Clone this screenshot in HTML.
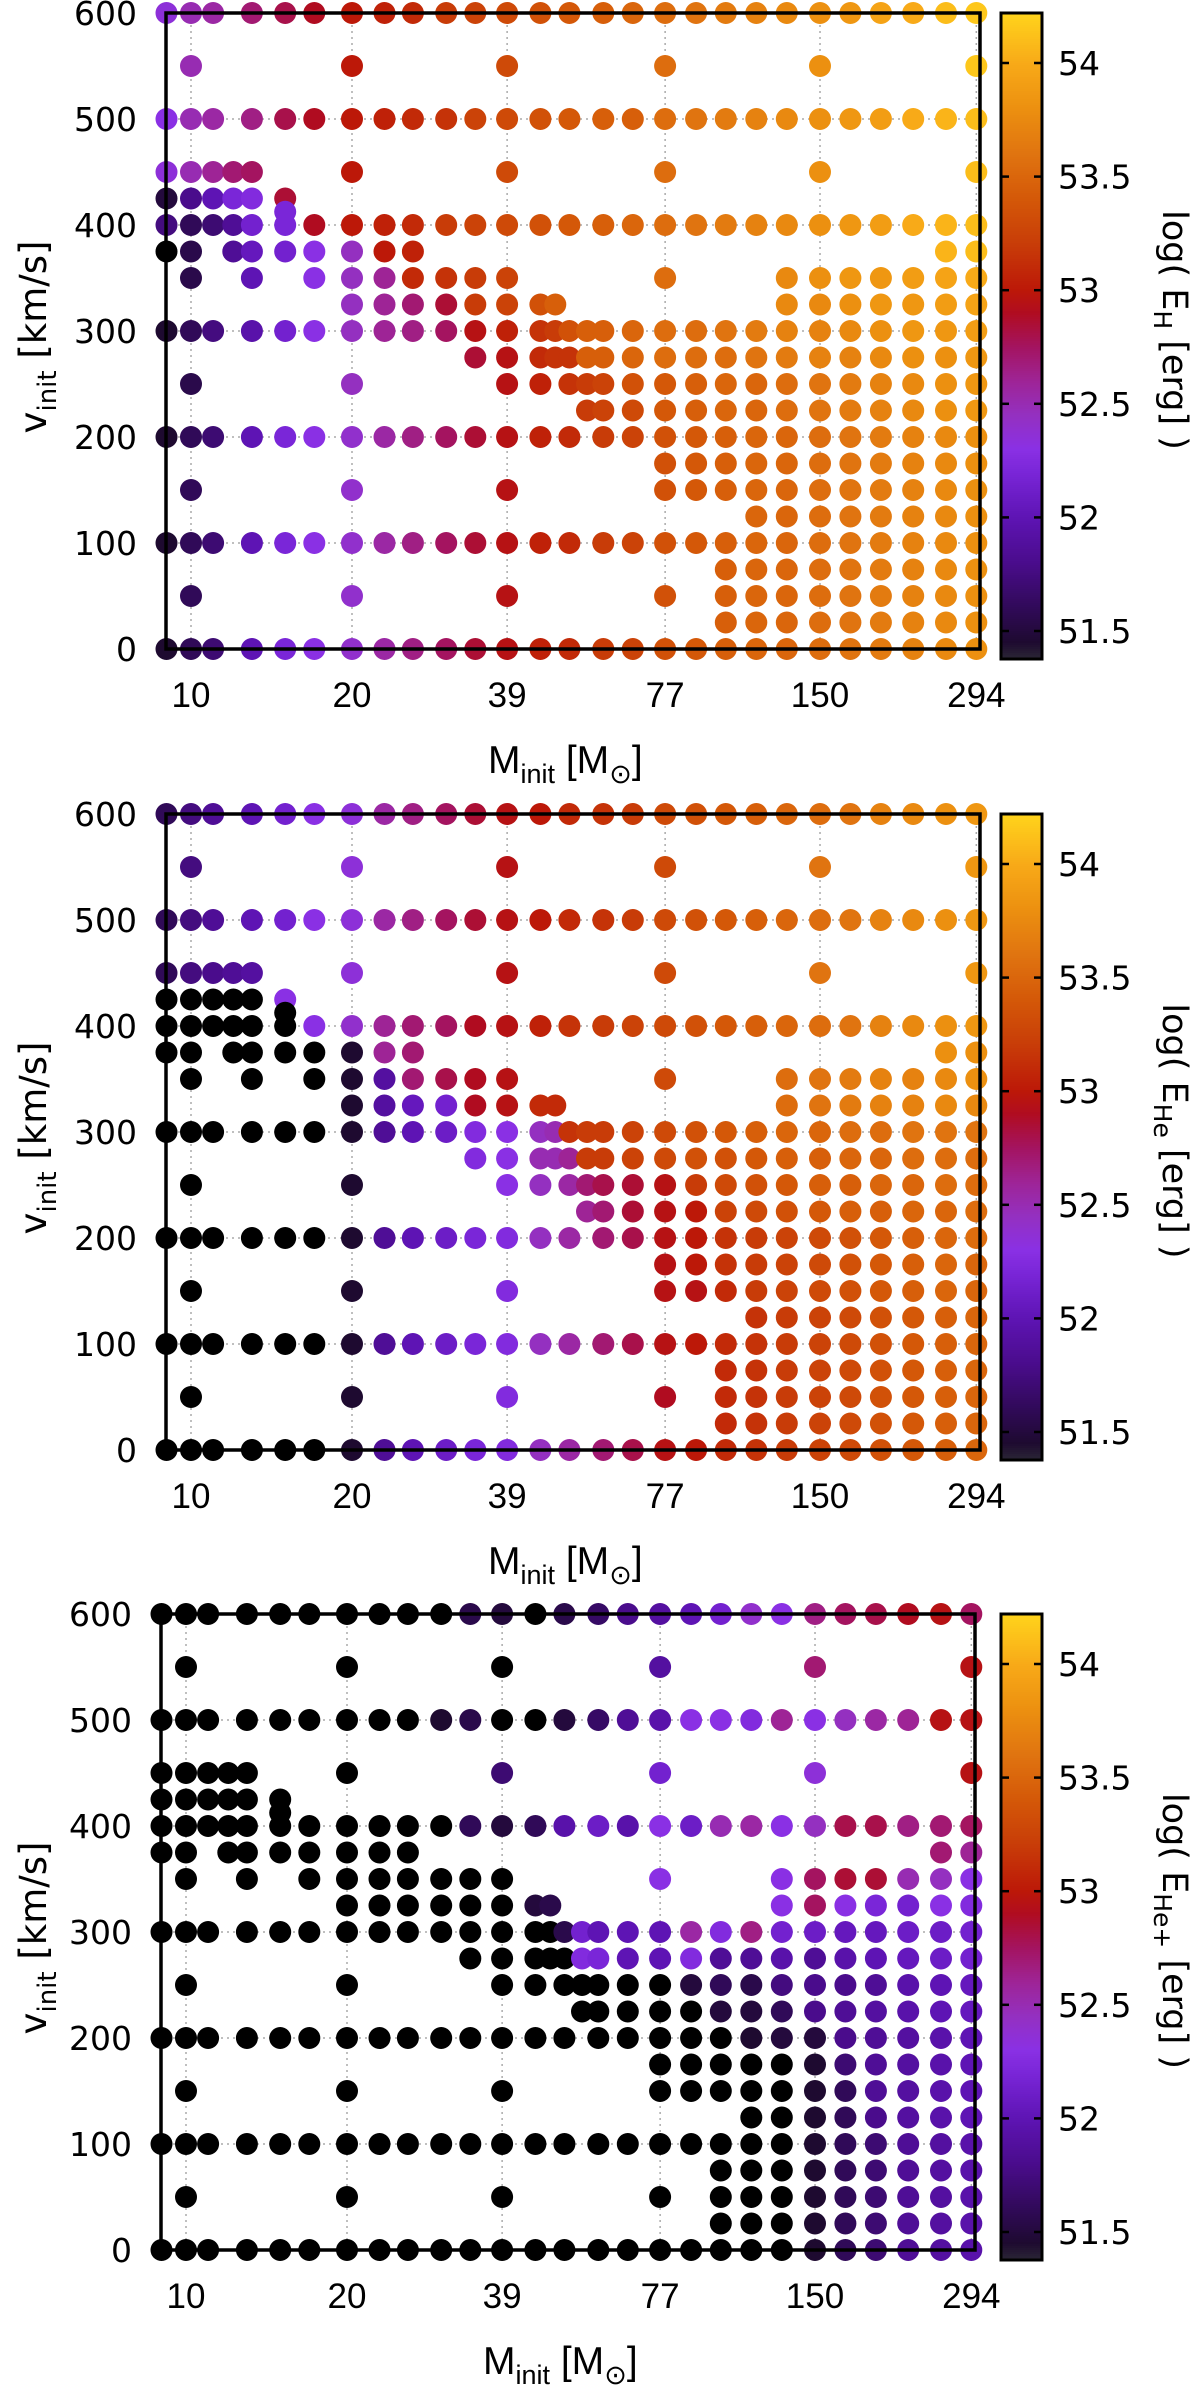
<!DOCTYPE html>
<html><head><meta charset="utf-8"><title>Energy grids</title>
<style>
html,body{margin:0;padding:0;background:#fff;}
svg{display:block;}
text{fill:#000;}
</style></head>
<body>
<svg id="fig" xmlns="http://www.w3.org/2000/svg" width="1200" height="2391" viewBox="0 0 1200 2391"></svg>
<script>
// ---- data ----
const masses = [9,10,11,12,13,15,17,20,23,26,30,34,39,45,48,51,55,59,63,67,77,88,100,114,130,150,171,195,224,258,294];
const velocities = [600,550,500,450,425,412.5,400,375,350,325,300,275,250,225,200,175,150,125,100,75,50,25,0];
const massTicks = [10,20,39,77,150,294];
const velTicks = [0,100,200,300,400,500,600];
const cbTicks = [51.5,52,52.5,53,53.5,54];
const cbTickLabels = ["51.5","52","52.5","53","53.5","54"];
// value code: '.' = no model; char index k -> log E = 51.4 + 0.05*k ; '0' = below range (black)
const codeChars = "0123456789abcdefghijklmnopqrstuvwxyzABCDEFGHIJKLMNOPQRSTUVWXYZ";
const rowsH = [
"jmn.q suwxy ABCD. E.F.G HIJKL MNPQS T",
".m... ..w.. ..C.. ..... H.... M.... T",
"imn.p suwxy zBCD. E.F.F HIJKL MNOQR S",
"jmoqr ..w.. ..C.. ..... H.... M.... S",
"28cgh t.... ..... ..... ..... ..... .",
"..... g.... ..... ..... ..... ..... .",
"7469f guwxy ABCD. E.F.G HIJKL MNOQR S",
"03.9d filwx ..... ..... ..... ....R S",
".3..c .iloy zAB.. ..... H...L MNNOP Q",
"..... ..loq tABDF ..... ....L LMNNO P",
"147.b filop rvxzA DFF.G HHIJK KLMNN O",
"..... ..... .tvyz zFF.G HHHIJ KKLMM N",
".3... ..l.. ..vx. zAB.D EFGGH IJKLM N",
"..... ..... ..... .AB.C EFGGH IJKLM N",
"146.c giknp rtvx. y.A.B DEFGG HIJKL M",
"..... ..... ..... ..... DEFGG HIJKL M",
".4... ..k.. ..v.. ..... DEFGG HIJKL M",
"..... ..... ..... ..... ...GG HIJKL M",
"146.c giknp rtvx. y.A.B DEFGG HIJKL M",
"..... ..... ..... ..... ..FGG HIJKL M",
".4... ..k.. ..v.. ..... D.FGG HIJKL M",
"..... ..... ..... ..... ..FGG HIJKL M",
"146.c giknp rtvx. y.A.B DEFGG HIJKL M"
];
const rowsHe = [
"479.c fijnp rtvw. y.z.A CDEFG HIKLM N",
".7... ..j.. ..v.. ..... C.... I.... N",
"479.c fijnp rtvw. y.z.A CDEFG HIKLM N",
"4789a ..j.. ..v.. ..... C.... I.... N",
"00000 i.... ..... ..... ..... ..... .",
"..... 0.... ..... ..... ..... ..... .",
"00000 0ikoq ruvx. z.A.B CDEFG HIKLM N",
"00.00 001oq ..... ..... ..... ....M M",
".0..0 .01aq suv.. ..... C...H IJKKL M",
"..... ..1ad fuvyy ..... ....H IJKKL L",
"000.0 0019c ehilm zAA.B CDEFG GHHII I",
"..... ..... .himm oAA.B CDDEF FGGHH H",
".0... ..1.. ..il. nqs.t vACDE FFGGH H",
"..... ..... ..... .oq.t vwBCD EFFGG H",
"000.0 0019c eghl. n.q.s vwzAB CDEFG H",
"..... ..... ..... ..... vwzAB CDEFG G",
".0... ..1.. ..h.. ..... vvyAB CDEFG G",
"..... ..... ..... ..... ...zA BCDEF G",
"000.0 0019c eghl. n.q.s vwyzA BCDEF G",
"..... ..... ..... ..... ..yzA BCDEF G",
".0... ..1.. ..h.. ..... u.yzA BCDEF G",
"..... ..... ..... ..... ..yzA BCDEF G",
"000.0 0019c eghl. n.q.s vwyzA BCDEF G"
];
const rowsHep = [
"000.0 00000 0320. 3.5.8 acfki prsuv r",
".0... ..0.. ..0.. ..... a.... q.... v",
"000.0 00000 1300. 2.5.9 biiho ilnov v",
"00000 ..0.. ..6.. ..... f.... j.... v",
"00000 0.... ..... ..... ..... ..... .",
"..... 0.... ..... ..... ..... ..... .",
"00000 00000 0424. b.e.b iemni lsspq r",
"00.00 00000 ..... ..... ..... ....q o",
".0..0 .0000 000.. ..... i...i rttml i",
"..... ..000 00023 ..... ....i rigfi h",
"000.0 00000 00000 3fc.c cnhpf eddee f",
"..... ..... .0000 0hg.c ch99b 9bcde f",
".0... ..0.. ..00. 000.0 02437 889bc d",
"..... ..... ..... .00.0 00224 89abc d",
"000.0 00000 0000. 0.0.0 00012 289ab c",
"..... ..... ..... ..... 00000 169ab c",
".0... ..0.. ..0.. ..... 00000 149ab c",
"..... ..... ..... ..... ...00 148ab c",
"000.0 00000 0000. 0.0.0 00000 1469a b",
"..... ..... ..... ..... ..000 1469a b",
".0... ..0.. ..0.. ..... 0.000 1469a b",
"..... ..... ..... ..... ..000 1469a b",
"000.0 00000 0000. 0.0.0 00000 1469a b"
];
const panelSubs = ["H","He","He+"];
const panelRows = [rowsH, rowsHe, rowsHep];

// ---- colormap ----
const stops = [
[51.38,"#2a2535"],[51.45,"#1e0a30"],[51.6,"#300a58"],[51.8,"#4a0c8c"],[52.0,"#5e14b4"],
[52.2,"#7a26d8"],[52.3,"#8a30e4"],[52.45,"#9430c0"],[52.6,"#9e2496"],[52.75,"#a41460"],
[52.9,"#b00c20"],[53.0,"#bc1808"],[53.2,"#c83c08"],[53.4,"#d45808"],[53.6,"#e07410"],
[53.8,"#ec9010"],[54.0,"#f8aa18"],[54.22,"#ffd41c"]];
function hex2rgb(h){return [parseInt(h.substr(1,2),16),parseInt(h.substr(3,2),16),parseInt(h.substr(5,2),16)];}
function cmap(v){
  if(v<=stops[0][0]) return stops[0][1];
  for(let i=1;i<stops.length;i++){
    if(v<=stops[i][0]){
      const a=hex2rgb(stops[i-1][1]),b=hex2rgb(stops[i][1]);
      const t=(v-stops[i-1][0])/(stops[i][0]-stops[i-1][0]);
      return "rgb("+a.map((c,j)=>Math.round(c+(b[j]-c)*t)).join(",")+")";
    }
  }
  return stops[stops.length-1][1];
}

const NS="http://www.w3.org/2000/svg";
const svg=document.getElementById('fig');
function mk(tag,attrs,parent){const e=document.createElementNS(NS,tag);for(const k in attrs)e.setAttribute(k,attrs[k]);(parent||svg).appendChild(e);return e;}

for(let p=0;p<3;p++){
  const off=[0,801,1601][p], dx=[0,0,-5][p];
  const top=13+off, bot=649+off, L=166+dx, R=980+dx;
  const xS=m=>L+25+161*Math.log2(m/10);
  const yS=v=>bot-v*(bot-top)/600;
  const g=mk('g',{});
  
  
  // grid
  massTicks.forEach(m=>{
    const l=mk('line',{x1:xS(m),x2:xS(m),y1:top,y2:bot,stroke:'#aaa','stroke-width':1.5,'stroke-dasharray':'2,4'},g);
    
    
  });
  velTicks.forEach(v=>{
    if(v===0||v===600) return;
    const l=mk('line',{x1:L,x2:R,y1:yS(v),y2:yS(v),stroke:'#aaa','stroke-width':1.5,'stroke-dasharray':'2,4'},g);
    
    
  });
  // points
  const rows=panelRows[p];
  rows.forEach((s,ri)=>{
    const codes=s.replace(/ /g,'');
    for(let ci=0;ci<codes.length&&ci<masses.length;ci++){
      const c=codes[ci]; if(c==='.') continue;
      const k=codeChars.indexOf(c);
      const val=51.4+0.05*k;
      const col=k===0?'#000':cmap(val);
      const d=mk('circle',{cx:xS(masses[ci]).toFixed(1),cy:yS(velocities[ri]).toFixed(1),r:11,fill:col},g);
      
      
    }
  });
  // frame
  const fr=mk('rect',{x:L,y:top,width:R-L,height:bot-top,fill:'none',stroke:'#000','stroke-width':3.5},g);
  
  
  // y ticks
  velTicks.forEach(v=>{
    const t=mk('text',{x:L-29,y:yS(v)+12,'text-anchor':'end','font-family':'DejaVu Sans, sans-serif','font-size':33},g);
    t.textContent=String(v);
    
    
  });
  // x ticks
  massTicks.forEach(m=>{
    const t=mk('text',{x:xS(m),y:bot+58,'text-anchor':'middle','font-family':'Liberation Sans, sans-serif','font-size':35},g);
    t.textContent=String(m);
    
    
  });
  // x title
  const xt=mk('text',{x:L+322,y:bot+124,'font-family':'Liberation Sans, sans-serif','font-size':39},g);
  
  
  xt.innerHTML='M<tspan font-size="27" dy="10">init</tspan><tspan dy="-10"> [M</tspan><tspan font-size="27" dy="10">⊙</tspan><tspan dy="-10">]</tspan>';
  // y title
  const yt=mk('text',{x:0,y:0,'text-anchor':'middle','font-family':'DejaVu Sans, sans-serif','font-size':37,transform:'translate(46,'+(337+off)+') rotate(-90)'},g);
  
  
  yt.innerHTML='v<tspan font-size="26" dy="10">init</tspan><tspan dy="-10"> [km/s]</tspan>';
  // colorbar
  const cbL=1001, cbR=1042, cbT=13+off, cbB=659+off;
  const cyS=v=>63+off+(54-v)*227.2;
  const cbg=mk('g',{},g);
  
  
  for(let y=cbT;y<cbB;y+=2){
    const v=54-(y+1-63-off)/227.2;
    mk('rect',{x:cbL,y:y,width:cbR-cbL,height:2.3,fill:cmap(v)},cbg);
  }
  mk('rect',{x:cbL,y:cbT,width:cbR-cbL,height:cbB-cbT,fill:'none',stroke:'#000','stroke-width':3},cbg);
  cbTicks.forEach((v,i)=>{
    const y=cyS(v);
    mk('line',{x1:cbL,x2:cbL+8,y1:y,y2:y,stroke:'#000','stroke-width':2.5},cbg);
    mk('line',{x1:cbR-8,x2:cbR,y1:y,y2:y,stroke:'#000','stroke-width':2.5},cbg);
    const t=mk('text',{x:1058,y:y+12,'font-family':'DejaVu Sans, sans-serif','font-size':33},cbg);
    t.textContent=cbTickLabels[i];
    
    
  });
  const ct=mk('text',{x:0,y:0,'text-anchor':'middle','font-family':'DejaVu Sans, sans-serif','font-size':35,transform:'translate(1163,'+(330+off)+') rotate(90)'},g);
  
  
  ct.innerHTML='log( E<tspan font-size="25" dy="9">'+panelSubs[p]+'</tspan><tspan dy="-9"> [erg] )</tspan>';
}
</script>
</body></html>
